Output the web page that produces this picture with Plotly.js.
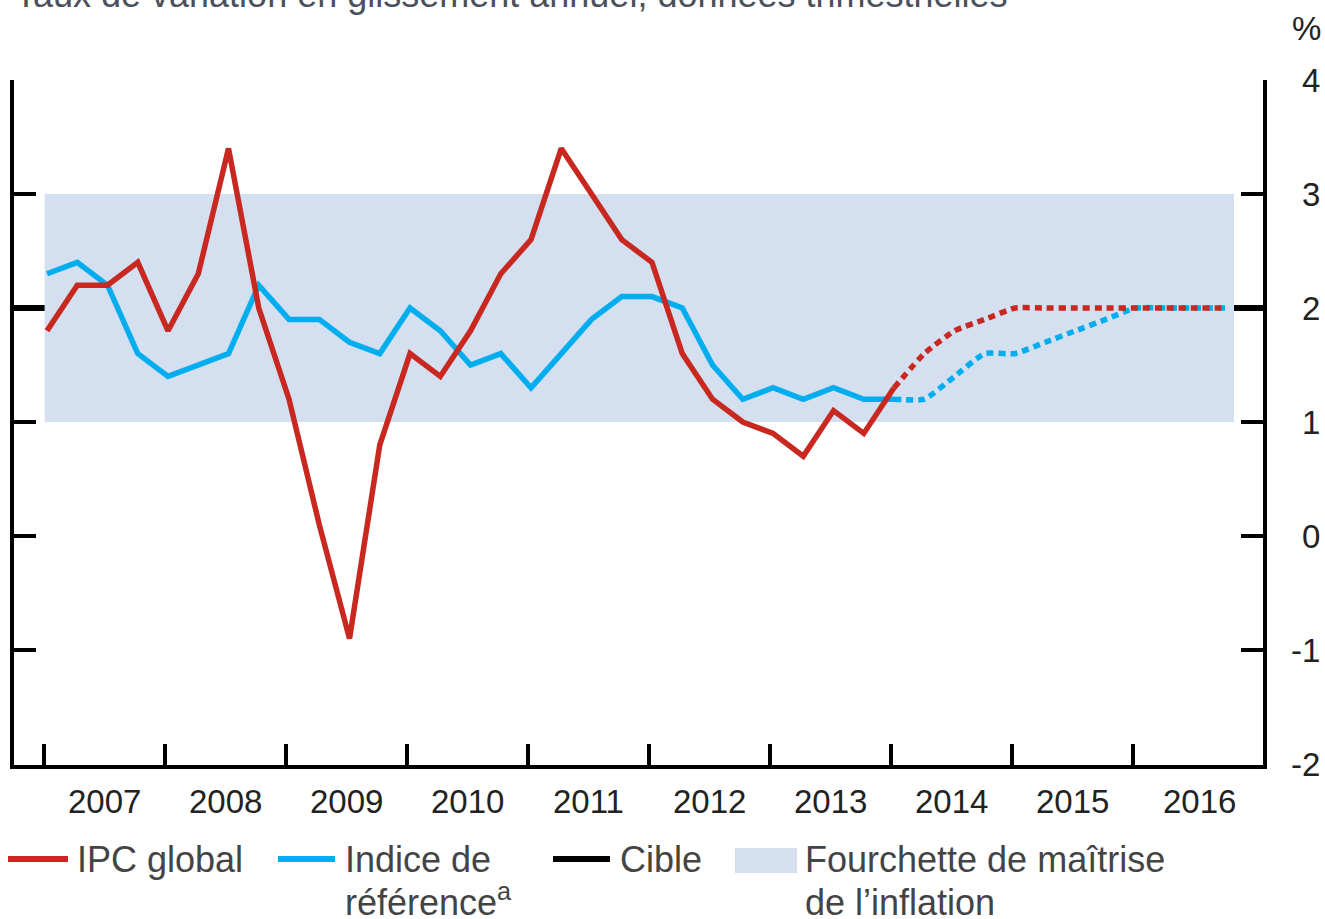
<!DOCTYPE html>
<html>
<head>
<meta charset="utf-8">
<script src="https://cdn.plot.ly/plotly-3.0.1.min.js"></script>
<style>
  html, body { margin: 0; padding: 0; background: #fff; }
  #chart { width: 1325px; height: 919px; }
</style>
</head>
<body>
<div id="chart"></div>
<script>
// ---------- data ----------
const quarters = [
  "2007T1","2007T2","2007T3","2007T4","2008T1","2008T2","2008T3","2008T4",
  "2009T1","2009T2","2009T3","2009T4","2010T1","2010T2","2010T3","2010T4",
  "2011T1","2011T2","2011T3","2011T4","2012T1","2012T2","2012T3","2012T4",
  "2013T1","2013T2","2013T3","2013T4","2014T1","2014T2","2014T3","2014T4",
  "2015T1","2015T2","2015T3","2015T4","2016T1","2016T2","2016T3","2016T4"
];
const yearLabels = ["2007","2008","2009","2010","2011","2012","2013","2014","2015","2016"];
const yTicks = [-2, -1, 0, 1, 2, 3, 4];

// IPC global (observed 2007T1..2014T1, projection 2014T1..2016T4)
const ipcActual = [1.8,2.2,2.2,2.4,1.8,2.3,3.4,2.0,1.2,0.1,-0.9,0.8,1.6,1.4,1.8,2.3,
                   2.6,3.4,3.0,2.6,2.4,1.6,1.2,1.0,0.9,0.7,1.1,0.9,1.3];
const ipcProj   = [1.3,1.6,1.8,1.9,2.0,2.0,2.0,2.0,2.0,2.0,2.0,2.0];
// Indice de référence
const coreActual = [2.3,2.4,2.2,1.6,1.4,1.5,1.6,2.2,1.9,1.9,1.7,1.6,2.0,1.8,1.5,1.6,
                    1.3,1.6,1.9,2.1,2.1,2.0,1.5,1.2,1.3,1.2,1.3,1.2,1.2];
const coreProj   = [1.2,1.2,1.4,1.6,1.6,1.7,1.8,1.9,2.0,2.0,2.0,2.0];
// Cible et fourchette
const target = 2;
const bandLow = 1;
const bandHigh = 3;

// ---------- helpers ----------
const RED = "#c8281f", BLUE = "#00aeef", BAND = "#d4dff0";
const FONT = "Liberation Sans, Arial, Helvetica, sans-serif";
function qx(label) {
  const y = parseInt(label.slice(0, 4), 10);
  const q = parseInt(label.slice(5), 10);
  return y + (q - 1) * 0.25 + 0.025;
}
const xAll = quarters.map(qx);
const nAct = ipcActual.length;
const xAct = xAll.slice(0, nAct);
const xProj = xAll.slice(nAct - 1);

// plot area in pixels
const W = 1325, H = 919;
const L = 14, R = 1263, T = 80, B = 765;
const px = v => (v - L) / (R - L);
const py = v => (B - v) / (B - T);

const x0 = 2006.7521, x1 = x0 + (R - L) / 121;
const yTop = 4, yBot = 4 - (B - T) / 114;

const traces = [
  { x: xAct, y: coreActual, mode: "lines", line: { color: BLUE, width: 5.5 }, hoverinfo: "skip" },
  { x: xProj, y: coreProj, mode: "lines", line: { color: BLUE, width: 5.5, dash: "7px,5px", shape: "spline", smoothing: 0.5 }, hoverinfo: "skip" },
  { x: xAct, y: ipcActual, mode: "lines", line: { color: RED, width: 5.5 }, hoverinfo: "skip" },
  { x: xProj, y: ipcProj, mode: "lines", line: { color: RED, width: 5.5, dash: "7px,5px", shape: "spline", smoothing: 0.5 }, hoverinfo: "skip" }
];

const tickFont = { family: FONT, size: 33, color: "#222" };
const legFont = { family: FONT, size: 36, color: "#444" };

const shapes = [
  { type: "rect", xref: "x", yref: "y", x0: xAll[0] - 0.02, x1: xAll[xAll.length - 1] + 0.06,
    y0: bandLow, y1: bandHigh, fillcolor: BAND, line: { width: 0 }, layer: "below" },
  { type: "line", xref: "paper", yref: "y", x0: 0, x1: 1, y0: target, y1: target,
    line: { color: "#000", width: 6 }, layer: "below" },
  // legend swatches
  { type: "line", xref: "paper", yref: "paper", x0: px(8), x1: px(68), y0: py(859), y1: py(859), line: { color: RED, width: 6 } },
  { type: "line", xref: "paper", yref: "paper", x0: px(278), x1: px(335), y0: py(859), y1: py(859), line: { color: BLUE, width: 6 } },
  { type: "line", xref: "paper", yref: "paper", x0: px(553), x1: px(610), y0: py(859), y1: py(859), line: { color: "#000", width: 6 } },
  { type: "rect", xref: "paper", yref: "paper", x0: px(735), x1: px(797), y0: py(873), y1: py(848), fillcolor: BAND, line: { width: 0 } }
];

// legend text: each line placed by its vertical centre
function legText(text, xPix, yPix) {
  return { text: text, xref: "paper", yref: "paper", x: px(xPix), y: py(yPix),
    xanchor: "left", yanchor: "middle", align: "left", showarrow: false, font: legFont, borderpad: 0 };
}

const annotations = [
  { text: "Taux de variation en glissement annuel, données trimestrielles", xref: "paper", yref: "paper",
    x: px(14), y: py(16), xanchor: "left", yanchor: "bottom", showarrow: false,
    font: { family: FONT, size: 36, color: "#4a505c" }, borderpad: 0 },
  { text: "%", xref: "paper", yref: "paper", x: px(1322), y: py(29), xanchor: "right", yanchor: "middle",
    showarrow: false, font: tickFont, borderpad: 0 },
  legText("IPC global", 76, 859),
  legText("Indice de", 344, 859),
  legText("référence<sup>a</sup>", 344, 900),
  legText("Cible", 619, 859),
  legText("Fourchette de maîtrise", 804, 859),
  legText("de l’inflation", 804, 902)
];

// year labels centred in each year period
yearLabels.forEach((lab, i) => {
  annotations.push({
    text: lab, xref: "x", yref: "paper",
    x: Number(lab) + (i === yearLabels.length - 1 ? 0.55 : 0.5), y: py(801),
    xanchor: "center", yanchor: "middle", showarrow: false, font: tickFont, borderpad: 0
  });
});
// right-aligned value labels
yTicks.forEach(v => {
  annotations.push({
    text: String(v), xref: "paper", yref: "y", x: px(1321), y: v,
    xanchor: "right", yanchor: "middle", showarrow: false, font: tickFont, borderpad: 0
  });
});

const layout = {
  width: W, height: H,
  margin: { l: L, r: W - R, t: T, b: H - B, pad: 0 },
  paper_bgcolor: "#fff", plot_bgcolor: "rgba(0,0,0,0)",
  showlegend: false,
  font: { family: FONT },
  xaxis: {
    range: [x0, x1], tickmode: "array", tickvals: yearLabels.map(Number),
    showticklabels: false, ticks: "inside", ticklen: 21, tickwidth: 4, tickcolor: "#000",
    showline: true, linewidth: 4, linecolor: "#000", showgrid: false, zeroline: false, fixedrange: true
  },
  yaxis: {
    range: [yBot, yTop], side: "right", tickmode: "array", tickvals: yTicks,
    showticklabels: false, ticks: "inside", ticklen: 22, tickwidth: 4, tickcolor: "#000",
    showline: true, linewidth: 4, linecolor: "#000", mirror: "ticks",
    showgrid: false, zeroline: false, fixedrange: true
  },
  shapes: shapes,
  annotations: annotations
};

Plotly.newPlot("chart", traces, layout, { displayModeBar: false, staticPlot: true });
</script>
</body>
</html>
